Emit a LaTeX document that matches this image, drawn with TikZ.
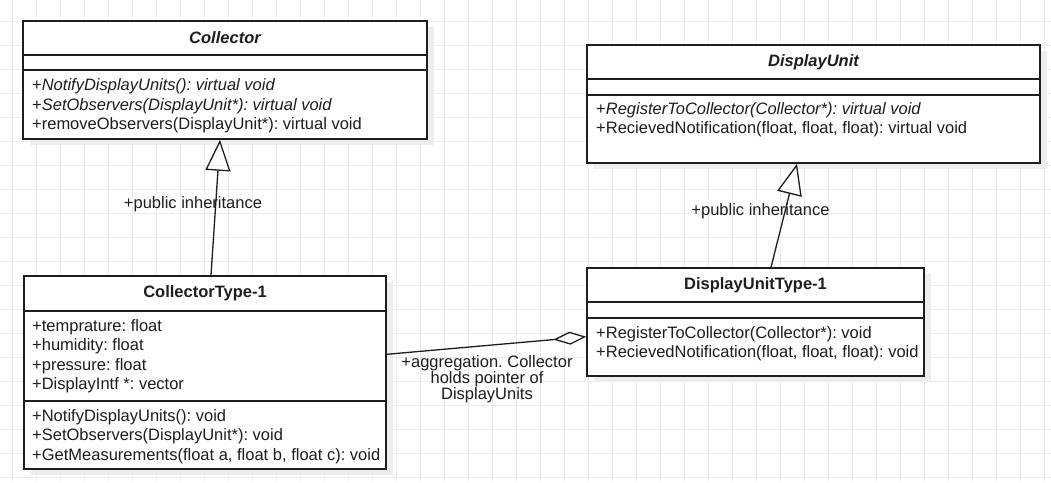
\documentclass[tikz,border=0pt]{standalone}
\usepackage{fontspec}
\setmainfont{Liberation Sans}
\usetikzlibrary{arrows.meta,shadows,calc}
\definecolor{ink}{HTML}{1E1E1E}
\definecolor{gridgray}{HTML}{ECECEC}
\newcommand{\umlfont}{\fontsize{16.5}{19.5}\selectfont}
\frenchspacing

\begin{document}
\begin{tikzpicture}[x=1pt,y=-1pt,
 every node/.style={inner sep=0pt,text=ink,font=\umlfont},
 umlbox/.style={draw=ink,line width=1.5pt,fill=white,
   drop shadow={shadow xshift=7pt,shadow yshift=-6pt,fill=black!7,opacity=1}},
 member/.style={anchor=base west},
 title/.style={font={\umlfont\bfseries}},
 abstitle/.style={font={\umlfont\bfseries\itshape}},
 inherit/.style={draw=ink,line width=1.3pt,
   -{Triangle[open,length=31pt,width=25pt,line join=miter]}},
 aggregate/.style={draw=ink,line width=1.3pt,
   {Diamond[open,length=33pt,width=13pt]}-}]
\useasboundingbox (0,0) rectangle (1051,482);
\fill[white] (0,0) rectangle (1051,482);
% background grid
\foreach \gx in {12.5,36.5,...,1050}
  \draw[gridgray,line width=1pt] (\gx,0) -- (\gx,482);
\foreach \gy in {21,45,...,481}
  \draw[gridgray,line width=1pt] (0,\gy) -- (1051,\gy);

% Collector
\node[umlbox,minimum width=404pt,minimum height=118pt] (col) at (225,80) {};
\draw[ink,line width=1.5pt] (col.west |- 0,55) -- (col.east |- 0,55);
\draw[ink,line width=1.5pt] (col.west |- 0,70) -- (col.east |- 0,70);
\node[abstitle] (colname) at (225,38) {Collector};
\node[member] (colm1) at (32,90.7) {+\textit{NotifyDisplayUnits(): virtual void}};
\node[member] (colm2) at (32,110.2) {+\textit{SetObservers(DisplayUnit*): virtual void}};
\node[member] (colm3) at (32,129.7) {+removeObservers(DisplayUnit*): virtual void};

% DisplayUnit
\node[umlbox,minimum width=453pt,minimum height=118pt] (disp) at (813.5,104) {};
\draw[ink,line width=1.5pt] (disp.west |- 0,79) -- (disp.east |- 0,79);
\draw[ink,line width=1.5pt] (disp.west |- 0,95) -- (disp.east |- 0,95);
\node[abstitle] (dispname) at (813.5,62) {DisplayUnit};
\node[member] (dispm1) at (596,114) {+\textit{RegisterToCollector(Collector*): virtual void}};
\node[member] (dispm2) at (596,133.5) {+RecievedNotification(float, float, float): virtual void};

% CollectorType-1
\node[umlbox,minimum width=362pt,minimum height=193pt] (colT) at (205,372.5) {};
\draw[ink,line width=1.5pt] (colT.west |- 0,311) -- (colT.east |- 0,311);
\draw[ink,line width=1.5pt] (colT.west |- 0,401) -- (colT.east |- 0,401);
\node[title] (colTname) at (205,293.5) {CollectorType-1};
\node[member] (colTa1) at (32,331) {+temprature: float};
\node[member] (colTa2) at (32,350.5) {+humidity: float};
\node[member] (colTa3) at (32,370) {+pressure: float};
\node[member] (colTa4) at (32,389.5) {+DisplayIntf *: vector};
\node[member] (colTm1) at (32,421) {+NotifyDisplayUnits(): void};
\node[member] (colTm2) at (32,440.5) {+SetObservers(DisplayUnit*): void};
\node[member] (colTm3) at (32,460) {+GetMeasurements(float a, float b, float c): void};

% DisplayUnitType-1
\node[umlbox,minimum width=337pt,minimum height=108pt] (dispT) at (755.5,322) {};
\draw[ink,line width=1.5pt] (dispT.west |- 0,302) -- (dispT.east |- 0,302);
\draw[ink,line width=1.5pt] (dispT.west |- 0,318) -- (dispT.east |- 0,318);
\node[title] (dispTname) at (755.5,285) {DisplayUnitType-1};
\node[member] (dispTm1) at (596,338) {+RegisterToCollector(Collector*): void};
\node[member] (dispTm2) at (596,357.5) {+RecievedNotification(float, float, float): void};

% relations
\draw[inherit] ([xshift=6pt]colT.north) -- ([xshift=-5pt]col.south);
\draw[inherit] ([xshift=15.5pt]dispT.north) -- ([xshift=-16.5pt]disp.south);
\draw[aggregate] ([yshift=-14.7pt]dispT.west) -- ([yshift=18.2pt]colT.east);
\node[anchor=base] (inhlbl1) at (193,208.5) {+public inheritance};
\node[anchor=base] (inhlbl2) at (760.5,215) {+public inheritance};
\node[anchor=north,align=center,font={\fontsize{16.5}{16}\selectfont}] (agglbl)
  at (487,355.5) {+aggregation. Collector\\holds pointer of\\DisplayUnits};
\end{tikzpicture}
\end{document}
